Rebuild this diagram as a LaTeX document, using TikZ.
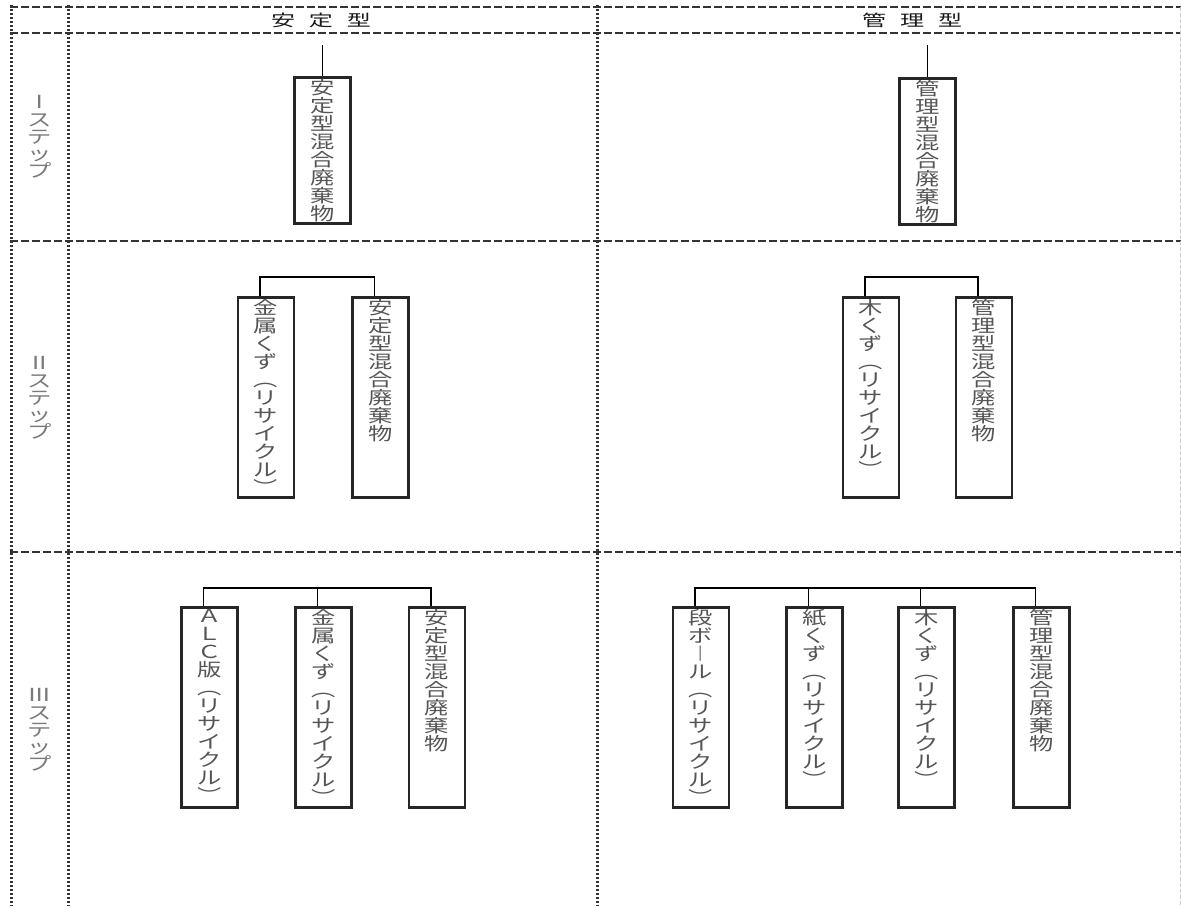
\documentclass[tikz,border=0pt]{standalone}
\usepackage{fontspec}
\newfontfamily\jpfont[FakeStretch=1.35]{Noto Sans CJK JP}
\newfontfamily\jphead[FakeStretch=1.5]{Noto Sans CJK JP}
\usetikzlibrary{positioning}
\definecolor{boxgray}{HTML}{555555}
\definecolor{stepgray}{HTML}{7A7A7A}
\definecolor{linegray}{HTML}{333333}
\lineskiplimit=-10pt

% vertical stack of characters, top aligned in a box of given height
\newcommand{\tate}[2][100pt]{\parbox[c][#1][t]{28pt}{\centering\jpfont\fontsize{9pt}{9pt}\selectfont
  \lineskiplimit=-10pt\vspace*{1pt}#2}}
\newcommand{\lpar}{︵}

\tikzset{
  wbox/.style={draw=black!85, line width=1.4pt, inner sep=0pt, anchor=north, text=boxgray},
  link/.style={black, line width=0.8pt},
  rowline/.style={linegray, line width=1pt, dash pattern=on 4pt off 1.5pt},
  colline/.style={linegray, line width=1.5pt, dash pattern=on 1.2pt off 0.8pt},
  steplbl/.style={align=center, inner sep=0pt, text=stepgray,
    font=\jpfont\fontsize{9pt}{8.6pt}\selectfont},
  head/.style={inner sep=0pt, text=black!90, font=\jphead\fontsize{8pt}{8pt}\selectfont},
}

\begin{document}
\begin{tikzpicture}[x=0.5pt, y=-0.5pt]
  \fill[white] (0,0) rectangle (1181,906);
  \useasboundingbox (0,0) rectangle (1181,906);

  % table
  \foreach \y in {7,33,241,552} {
    \draw[rowline] (10,\y) -- (1181,\y);
  }
  \foreach \x in {11,68,597} {
    \draw[colline] (\x,5) -- (\x,906);
  }
  \draw[gray!40, line width=0.5pt, dash pattern=on 2pt off 1pt] (1180,7) -- (1180,906);

  \node[head] (h1) at (321,20) {安\hspace{7pt}定\hspace{7pt}型};
  \node[head] (h2) at (912,20) {管\hspace{7pt}理\hspace{7pt}型};

  \node[steplbl] (s1) at (40,137) {Ⅰ\\ス\\テ\\ッ\\プ};
  \node[steplbl] (s2) at (40,398) {Ⅱ\\ス\\テ\\ッ\\プ};
  \node[steplbl] (s3) at (40,730) {Ⅲ\\ス\\テ\\ッ\\プ};

  % I step
  \coordinate (a0) at (322.5,45);
  \node[wbox] (a1) at (322.5,76) {\tate[73pt]{安\\定\\型\\混\\合\\廃\\棄\\物}};
  \draw[link] (a0) -- (a1.north);
  \coordinate (e0) at (927.5,45);
  \node[wbox] (e1) at (927.5,77) {\tate[73pt]{管\\理\\型\\混\\合\\廃\\棄\\物}};
  \draw[link] (e0) -- (e1.north);

  % II step
  \node[wbox] (b1) at (266,296) {\tate{金\\属\\く\\ず\\\lpar\\リ\\サ\\イ\\ク\\ル\\︶}};
  \node[wbox] (b2) at (380.5,296) {\tate{安\\定\\型\\混\\合\\廃\\棄\\物}};
  \draw[link] ([xshift=-3pt]b1.north) -- ++(0,9.5pt) -| ([xshift=-3pt]b2.north);

  \node[wbox] (f1) at (871,296) {\tate{木\\く\\ず\\\lpar\\リ\\サ\\イ\\ク\\ル\\︶}};
  \node[wbox] (f2) at (984,296) {\tate{管\\理\\型\\混\\合\\廃\\棄\\物}};
  \draw[link] ([xshift=-3pt]f1.north) -- ++(0,9.5pt) -| ([xshift=-3pt]f2.north);

  % III step
  \node[wbox] (c1) at (209.5,606) {\tate{Ａ\\Ｌ\\Ｃ\\版\\\lpar\\リ\\サ\\イ\\ク\\ル\\︶}};
  \node[wbox] (c2) at (323.5,606) {\tate{金\\属\\く\\ず\\\lpar\\リ\\サ\\イ\\ク\\ル\\︶}};
  \node[wbox] (c3) at (437,606) {\tate{安\\定\\型\\混\\合\\廃\\棄\\物}};
  \draw[link] ([xshift=-3pt]c1.north) -- ++(0,9pt) -| ([xshift=-3pt]c3.north);
  \draw[link] ([xshift=-3pt]c2.north) -- ++(0,9pt);

  \node[wbox] (g1) at (701,606) {\tate{段\\ボ\\︱\\ル\\\lpar\\リ\\サ\\イ\\ク\\ル\\︶}};
  \node[wbox] (g2) at (814.5,606) {\tate{紙\\く\\ず\\\lpar\\リ\\サ\\イ\\ク\\ル\\︶}};
  \node[wbox] (g3) at (926.5,606) {\tate{木\\く\\ず\\\lpar\\リ\\サ\\イ\\ク\\ル\\︶}};
  \node[wbox] (g4) at (1041.5,606) {\tate{管\\理\\型\\混\\合\\廃\\棄\\物}};
  \draw[link] ([xshift=-3pt]g1.north) -- ++(0,9pt) -| ([xshift=-3pt]g4.north);
  \draw[link] ([xshift=-3pt]g2.north) -- ++(0,9pt);
  \draw[link] ([xshift=-3pt]g3.north) -- ++(0,9pt);
\end{tikzpicture}
\end{document}
